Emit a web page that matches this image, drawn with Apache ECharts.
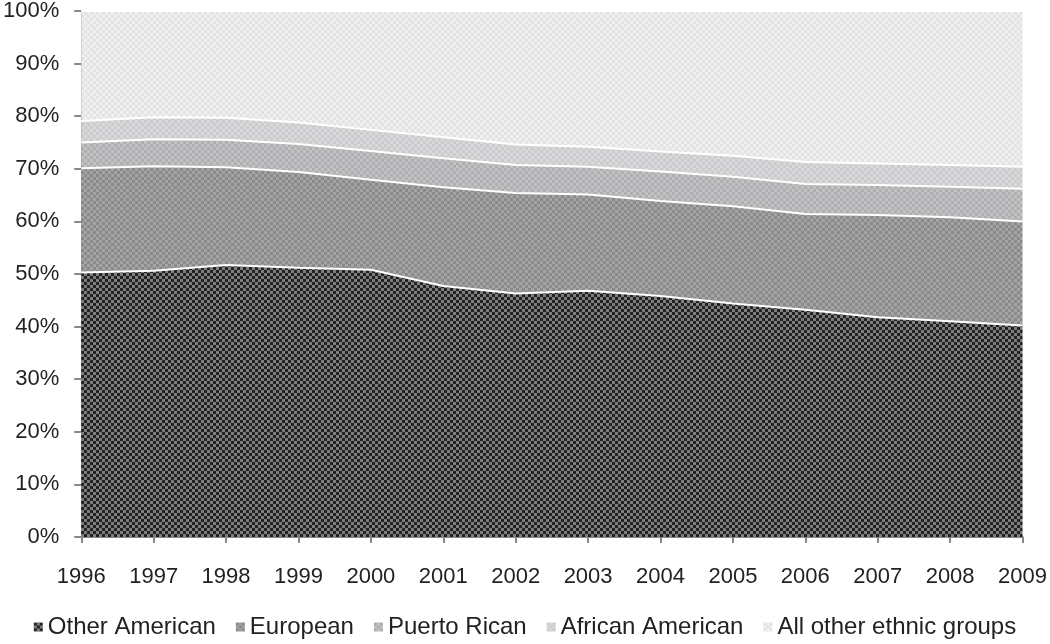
<!DOCTYPE html>
<html>
<head>
<meta charset="utf-8">
<script src="https://cdn.jsdelivr.net/npm/echarts@6/dist/echarts.min.js"></script>
<style>html,body{margin:0;padding:0;background:#fff;}#c{width:1050px;height:644px;}</style>
</head>
<body>
<div id="c"></div>
<script>
const years = ['1996','1997','1998','1999','2000','2001','2002','2003','2004','2005','2006','2007','2008','2009'];
const otherAmerican = [50.3, 50.6, 51.7, 51.2, 50.8, 47.7, 46.3, 46.8, 45.8, 44.4, 43.2, 41.8, 41.0, 40.2];
const european      = [19.8, 19.9, 18.6, 18.2, 17.1, 18.8, 19.1, 18.3, 18.1, 18.5, 18.2, 19.4, 19.8, 19.8];
const puertoRican   = [4.9, 5.1, 5.2, 5.3, 5.5, 5.5, 5.3, 5.3, 5.6, 5.6, 5.7, 5.7, 5.8, 6.2];
const africanAmerican = [4.1, 4.2, 4.2, 4.1, 4.0, 4.0, 3.9, 3.8, 3.8, 4.0, 4.2, 4.1, 4.1, 4.2];
const allOther      = [20.9, 20.2, 20.3, 21.2, 22.6, 24.0, 25.4, 25.8, 26.7, 27.5, 28.7, 29.0, 29.3, 29.6];
const yTicks = [0,10,20,30,40,50,60,70,80,90,100];

function pattern(a, b) {
  const c = document.createElement('canvas');
  c.width = 6; c.height = 6;
  const ctx = c.getContext('2d');
  ctx.fillStyle = a; ctx.fillRect(0,0,6,6);
  ctx.fillStyle = b; ctx.fillRect(0,0,3,3); ctx.fillRect(3,3,3,3);
  return {image: c, repeat: 'repeat'};
}
const fills = [
  pattern('#7e7e7e', '#222222'),
  pattern('#a4a4a4', '#8a8a8a'),
  pattern('#c2c2c4', '#afafb1'),
  pattern('#d9d9db', '#cbcbcd'),
  pattern('#f0f0f0', '#e2e2e2')
];
const names = ['Other American','European','Puerto Rican','African American','All other ethnic groups'];
const datas = [otherAmerican, european, puertoRican, africanAmerican, allOther];

const chart = echarts.init(document.getElementById('c'), null, {renderer: 'canvas'});
chart.setOption({
  animation: false,
  backgroundColor: '#ffffff',
  textStyle: {fontFamily: 'Liberation Sans, Arial, sans-serif'},
  grid: {left: 80, right: 26, top: 10, bottom: 107, containLabel: false},
  legend: {
    bottom: 0, left: 'center',
    icon: 'rect', itemWidth: 9, itemHeight: 9, itemGap: 20,
    textStyle: {fontSize: 24, color: '#222', fontFamily: 'Liberation Sans, Arial, sans-serif'},
    data: names
  },
  xAxis: {
    type: 'category', data: years, boundaryGap: false,
    axisLine: {show: true, lineStyle: {color: '#888', width: 2}},
    axisTick: {show: true, length: 6, lineStyle: {color: '#888', width: 2}},
    axisLabel: {fontSize: 22, color: '#222', margin: 29},
    splitLine: {show: false}
  },
  yAxis: {
    type: 'value', min: 0, max: 100, interval: 10,
    axisLine: {show: true, lineStyle: {color: '#888', width: 2}},
    axisTick: {show: true, length: 7, lineStyle: {color: '#888', width: 2}},
    axisLabel: {fontSize: 22, color: '#222', margin: 22, formatter: v => yTicks.includes(v) ? v + '%' : ''},
    splitLine: {show: false}
  },
  series: names.map((n, i) => ({
    name: n, type: 'line', stack: 'total', data: datas[i],
    symbol: 'none', smooth: false,
    lineStyle: {color: '#ffffff', width: 2},
    itemStyle: {color: fills[i]},
    areaStyle: {color: fills[i], opacity: 1}
  }))
});
</script>
</body>
</html>
